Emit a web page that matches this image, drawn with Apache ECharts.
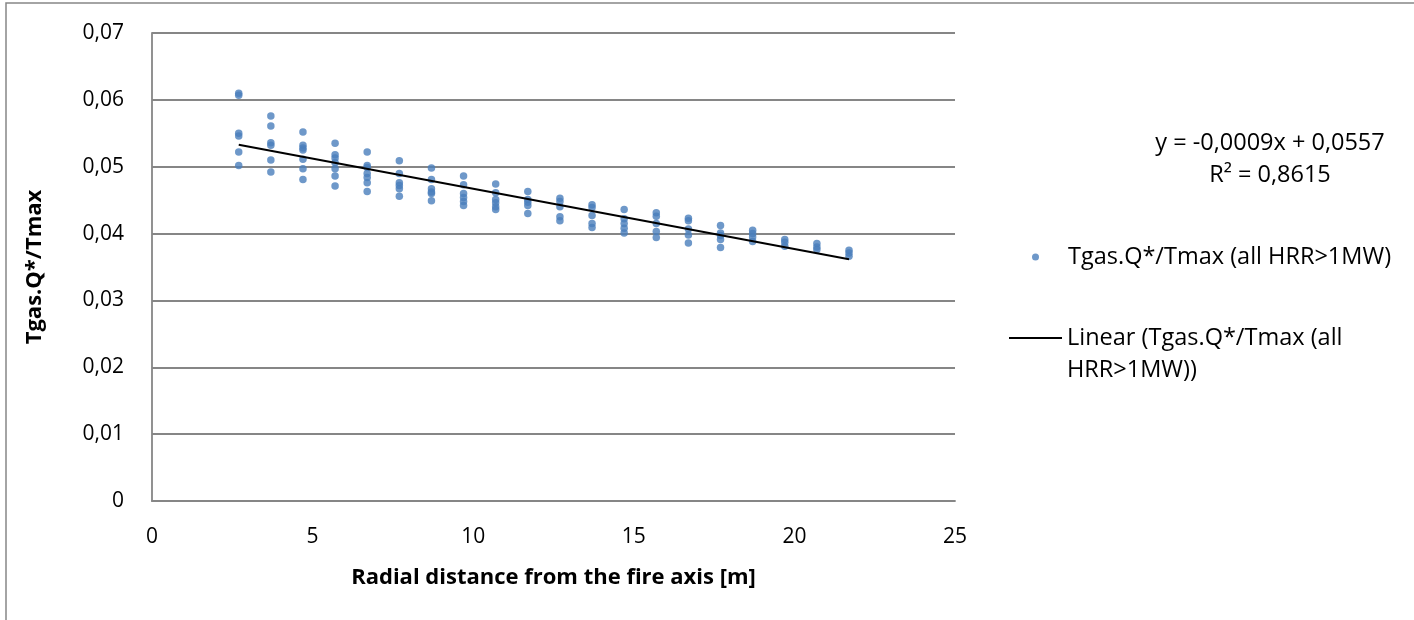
<!DOCTYPE html>
<html>
<head>
<meta charset="utf-8">
<script src="https://cdn.jsdelivr.net/npm/echarts@6/dist/echarts.min.js"></script>
<style>
  html, body { margin: 0; padding: 0; background: #ffffff; }
  #chart { width: 1414px; height: 620px; }
</style>
</head>
<body>
<div id="chart"></div>
<script>
// Radial distances of the measurement columns [m]
const distances = [2.7, 3.7, 4.7, 5.7, 6.7, 7.7, 8.7, 9.7, 10.7, 11.7,
                   12.7, 13.7, 14.7, 15.7, 16.7, 17.7, 18.7, 19.7, 20.7, 21.7];

// Tgas.Q*/Tmax values measured at each distance (one row per distance)
const ratios = [
  [0.0610, 0.0607, 0.0550, 0.0546, 0.0522, 0.0502],
  [0.0576, 0.0561, 0.0536, 0.0532, 0.0510, 0.0492],
  [0.0552, 0.0532, 0.0528, 0.0525, 0.0511, 0.0497, 0.0481],
  [0.0535, 0.0518, 0.0513, 0.0506, 0.0497, 0.0486, 0.0471],
  [0.0522, 0.0502, 0.0499, 0.0490, 0.0484, 0.0476, 0.0463],
  [0.0509, 0.0490, 0.0476, 0.0472, 0.0467, 0.0456],
  [0.0498, 0.0481, 0.0467, 0.0462, 0.0460, 0.0449],
  [0.0486, 0.0473, 0.0460, 0.0454, 0.0448, 0.0442],
  [0.0474, 0.0461, 0.0451, 0.0446, 0.0440, 0.0436],
  [0.0463, 0.0451, 0.0447, 0.0442, 0.0430],
  [0.0453, 0.0448, 0.0440, 0.0425, 0.0419],
  [0.0443, 0.0439, 0.0427, 0.0415, 0.0409],
  [0.0436, 0.0422, 0.0415, 0.0408, 0.0401],
  [0.0431, 0.0426, 0.0415, 0.0403, 0.0394],
  [0.0423, 0.0419, 0.0407, 0.0398, 0.0386],
  [0.0412, 0.0401, 0.0397, 0.0391, 0.0379],
  [0.0405, 0.0400, 0.0395, 0.0388],
  [0.0391, 0.0387, 0.0381],
  [0.0385, 0.0380, 0.0376],
  [0.0375, 0.0371, 0.0366]
];

// Linear trend line coefficients and goodness of fit
const trendSlope = -0.0009;
const trendIntercept = 0.0557;
const trendR2 = 0.8615;

const seriesName = 'Tgas.Q*/Tmax (all HRR>1MW)';
const trendName = 'Linear (Tgas.Q*/Tmax (all HRR>1MW))';

const xTicks = { min: 0, max: 25, step: 5 };
const yTicks = { min: 0, max: 0.07, step: 0.01 };

const FONT = '"Open Sans", Lato, sans-serif';
const GRID_COLOR = '#868686';
const LEGEND_SIZE = 23.5;

const fmtComma = (v, digits) => v.toFixed(digits).replace('.', ',');

const points = [];
distances.forEach((d, i) => ratios[i].forEach(v => points.push([d, v])));

const xFirst = distances[0];
const xLast = distances[distances.length - 1];
const trendLine = [
  [xFirst, trendSlope * xFirst + trendIntercept],
  [xLast, trendSlope * xLast + trendIntercept]
];

const eqText = 'y = ' + fmtComma(trendSlope, 4) + 'x + ' + fmtComma(trendIntercept, 4);
const r2Text = 'R\u00B2 = ' + fmtComma(trendR2, 4);

const chart = echarts.init(document.getElementById('chart'), null, { renderer: 'canvas' });

chart.setOption({
  backgroundColor: '#ffffff',
  animation: false,
  textStyle: { fontFamily: FONT },
  grid: { left: 152, right: 459, top: 33, bottom: 119, containLabel: false },
  xAxis: {
    type: 'value',
    min: xTicks.min, max: xTicks.max, interval: xTicks.step,
    name: 'Radial distance from the fire axis [m]',
    nameLocation: 'middle',
    nameGap: 66,
    nameTextStyle: { fontFamily: FONT, fontSize: 22, fontWeight: 'bold', color: '#000' },
    axisLine: { show: true, lineStyle: { color: GRID_COLOR, width: 1.8 } },
    axisTick: { show: false },
    splitLine: { show: false },
    axisLabel: { margin: 26, fontFamily: FONT, fontSize: 21, color: '#000' }
  },
  yAxis: {
    type: 'value',
    min: yTicks.min, max: yTicks.max, interval: yTicks.step,
    name: 'Tgas.Q*/Tmax',
    nameLocation: 'middle',
    nameGap: 106,
    nameTextStyle: { fontFamily: FONT, fontSize: 22, fontWeight: 'bold', color: '#000' },
    axisLine: { show: true, lineStyle: { color: GRID_COLOR, width: 1.8 } },
    axisTick: { show: false },
    splitLine: { show: true, lineStyle: { color: GRID_COLOR, width: 1.8 } },
    axisLabel: {
      margin: 28, fontFamily: FONT, fontSize: 21, color: '#000',
      formatter: v => (v === 0 ? '0' : fmtComma(v, 2))
    }
  },
  legend: [
    {
      data: [{ name: seriesName, icon: 'circle' }],
      orient: 'vertical',
      left: 1032, top: 245,
      padding: 0,
      itemWidth: 7, itemHeight: 7,
      textStyle: { fontFamily: FONT, fontSize: LEGEND_SIZE, color: '#000', padding: [0, 0, 0, 24] }
    },
    {
      data: [{ name: trendName, icon: 'rect', itemStyle: { color: '#000' } }],
      orient: 'vertical',
      left: 1009, top: 290,
      padding: 0,
      itemWidth: 53, itemHeight: 2,
      formatter: () => '\u00A0\nLinear (Tgas.Q*/Tmax (all\nHRR>1MW))',
      textStyle: { fontFamily: FONT, fontSize: LEGEND_SIZE, color: '#000', lineHeight: 32 }
    }
  ],
  graphic: [
    {
      type: 'rect', silent: true,
      shape: { x: 6, y: 3, width: 1430, height: 640 },
      style: { fill: 'none', stroke: GRID_COLOR, lineWidth: 1.5 }
    },
    {
      type: 'text', x: 1270, y: 143,
      style: { text: eqText, font: LEGEND_SIZE + 'px ' + FONT, fill: '#000', align: 'center', verticalAlign: 'middle' }
    },
    {
      type: 'text', x: 1270, y: 175,
      style: { text: r2Text, font: LEGEND_SIZE + 'px ' + FONT, fill: '#000', align: 'center', verticalAlign: 'middle' }
    }
  ],
  series: [
    {
      name: seriesName,
      type: 'scatter',
      symbol: 'circle',
      symbolSize: 7.5,
      itemStyle: { color: '#4A7EBB' },
      data: points,
      z: 3
    },
    {
      name: trendName,
      type: 'line',
      symbol: 'none',
      lineStyle: { color: '#000', width: 2 },
      itemStyle: { color: '#000' },
      data: trendLine,
      z: 4
    }
  ]
});
</script>
</body>
</html>
